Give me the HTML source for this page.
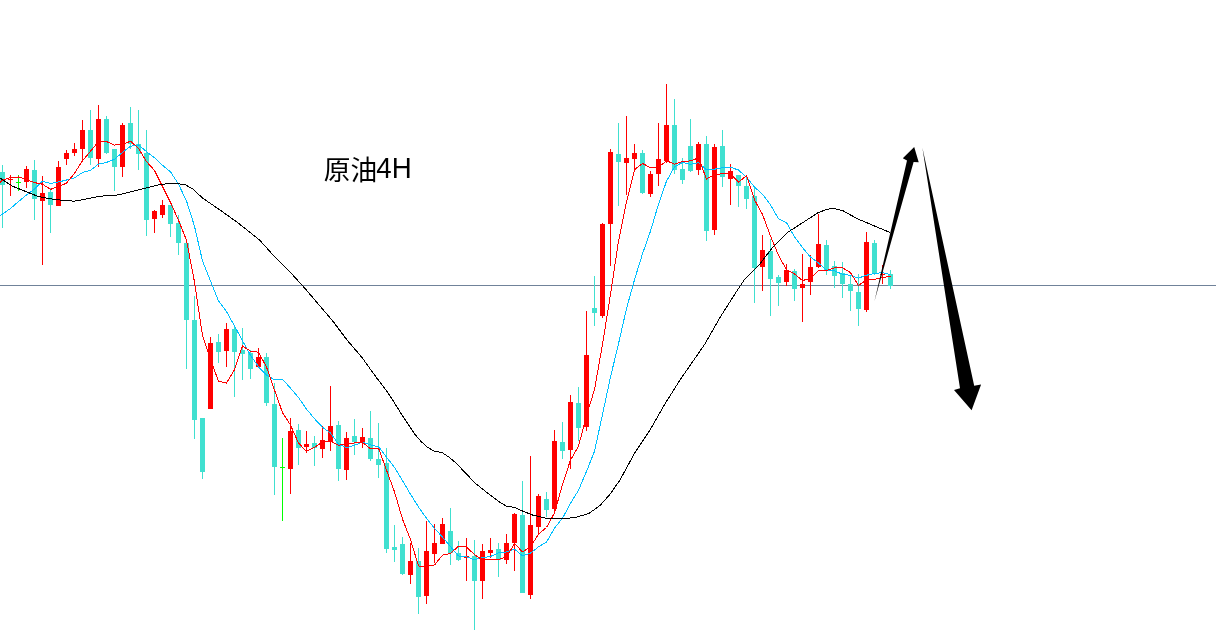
<!DOCTYPE html>
<html><head><meta charset="utf-8"><title>原油4H</title>
<style>html,body{margin:0;padding:0;background:#fff}svg{display:block}text{font-family:"Liberation Sans","Noto Sans CJK SC",sans-serif}</style></head><body>
<svg width="1216" height="644" viewBox="0 0 1216 644">
<rect width="1216" height="644" fill="#fff"/>
<g shape-rendering="crispEdges">
<rect x="0" y="285" width="1216" height="1" fill="#708299"/>
<rect x="2" y="165.00" width="1" height="62.50" fill="#40e0d0"/>
<rect x="0" y="172.00" width="5" height="12.50" fill="#40e0d0"/>
<rect x="10" y="174.50" width="1" height="21.00" fill="#ff0000"/>
<rect x="8" y="178.50" width="5" height="1.00" fill="#ff0000"/>
<rect x="18" y="175.00" width="1" height="15.50" fill="#00ff00"/>
<rect x="16" y="182.00" width="5" height="1.00" fill="#00ff00"/>
<rect x="26" y="165.50" width="1" height="22.00" fill="#ff0000"/>
<rect x="24" y="169.00" width="5" height="12.50" fill="#ff0000"/>
<rect x="34" y="159.50" width="1" height="60.50" fill="#40e0d0"/>
<rect x="32" y="170.00" width="5" height="28.75" fill="#40e0d0"/>
<rect x="42" y="176.00" width="1" height="89.00" fill="#ff0000"/>
<rect x="40" y="193.00" width="5" height="7.50" fill="#ff0000"/>
<rect x="50" y="188.00" width="1" height="44.50" fill="#40e0d0"/>
<rect x="48" y="192.00" width="5" height="12.50" fill="#40e0d0"/>
<rect x="58" y="161.00" width="1" height="44.50" fill="#ff0000"/>
<rect x="56" y="167.00" width="5" height="38.50" fill="#ff0000"/>
<rect x="66" y="150.00" width="1" height="14.50" fill="#ff0000"/>
<rect x="64" y="153.00" width="5" height="6.00" fill="#ff0000"/>
<rect x="74" y="143.00" width="1" height="12.50" fill="#ff0000"/>
<rect x="72" y="149.00" width="5" height="4.00" fill="#ff0000"/>
<rect x="82" y="120.00" width="1" height="41.00" fill="#ff0000"/>
<rect x="80" y="130.00" width="5" height="19.00" fill="#ff0000"/>
<rect x="90" y="109.50" width="1" height="55.00" fill="#40e0d0"/>
<rect x="88" y="130.00" width="5" height="27.50" fill="#40e0d0"/>
<rect x="98" y="105.00" width="1" height="62.00" fill="#ff0000"/>
<rect x="96" y="119.00" width="5" height="40.00" fill="#ff0000"/>
<rect x="106" y="115.50" width="1" height="38.00" fill="#40e0d0"/>
<rect x="104" y="119.00" width="5" height="33.50" fill="#40e0d0"/>
<rect x="114" y="149.00" width="1" height="41.50" fill="#40e0d0"/>
<rect x="112" y="149.00" width="5" height="17.50" fill="#40e0d0"/>
<rect x="122" y="122.50" width="1" height="54.00" fill="#ff0000"/>
<rect x="120" y="125.00" width="5" height="41.50" fill="#ff0000"/>
<rect x="130" y="107.00" width="1" height="42.00" fill="#40e0d0"/>
<rect x="128" y="123.00" width="5" height="20.50" fill="#40e0d0"/>
<rect x="138" y="110.00" width="1" height="60.00" fill="#40e0d0"/>
<rect x="136" y="143.50" width="5" height="10.00" fill="#40e0d0"/>
<rect x="146" y="130.00" width="1" height="105.50" fill="#40e0d0"/>
<rect x="144" y="153.00" width="5" height="66.50" fill="#40e0d0"/>
<rect x="154" y="210.00" width="1" height="22.50" fill="#ff0000"/>
<rect x="152" y="210.50" width="5" height="8.00" fill="#ff0000"/>
<rect x="162" y="200.00" width="1" height="17.50" fill="#ff0000"/>
<rect x="160" y="205.00" width="5" height="9.50" fill="#ff0000"/>
<rect x="170" y="205.00" width="1" height="32.00" fill="#40e0d0"/>
<rect x="168" y="205.00" width="5" height="18.50" fill="#40e0d0"/>
<rect x="178" y="215.00" width="1" height="40.00" fill="#40e0d0"/>
<rect x="176" y="223.00" width="5" height="19.50" fill="#40e0d0"/>
<rect x="186" y="243.00" width="1" height="125.75" fill="#40e0d0"/>
<rect x="184" y="243.00" width="5" height="77.00" fill="#40e0d0"/>
<rect x="194" y="296.00" width="1" height="142.75" fill="#40e0d0"/>
<rect x="192" y="320.00" width="5" height="99.50" fill="#40e0d0"/>
<rect x="202" y="418.00" width="1" height="60.75" fill="#40e0d0"/>
<rect x="200" y="418.00" width="5" height="54.00" fill="#40e0d0"/>
<rect x="210" y="337.00" width="1" height="71.50" fill="#ff0000"/>
<rect x="208" y="343.00" width="5" height="65.50" fill="#ff0000"/>
<rect x="218" y="333.75" width="1" height="28.75" fill="#40e0d0"/>
<rect x="216" y="342.00" width="5" height="10.00" fill="#40e0d0"/>
<rect x="226" y="323.00" width="1" height="44.00" fill="#ff0000"/>
<rect x="224" y="329.00" width="5" height="22.00" fill="#ff0000"/>
<rect x="234" y="326.00" width="1" height="71.00" fill="#40e0d0"/>
<rect x="232" y="329.00" width="5" height="23.00" fill="#40e0d0"/>
<rect x="242" y="328.00" width="1" height="52.00" fill="#40e0d0"/>
<rect x="240" y="350.00" width="5" height="4.00" fill="#40e0d0"/>
<rect x="250" y="350.00" width="1" height="28.75" fill="#40e0d0"/>
<rect x="248" y="353.00" width="5" height="16.00" fill="#40e0d0"/>
<rect x="258" y="348.00" width="1" height="19.00" fill="#ff0000"/>
<rect x="256" y="357.00" width="5" height="10.00" fill="#ff0000"/>
<rect x="266" y="353.00" width="1" height="52.50" fill="#40e0d0"/>
<rect x="264" y="357.00" width="5" height="46.00" fill="#40e0d0"/>
<rect x="274" y="383.00" width="1" height="112.00" fill="#40e0d0"/>
<rect x="272" y="404.00" width="5" height="63.00" fill="#40e0d0"/>
<rect x="282" y="438.00" width="1" height="82.50" fill="#00ff00"/>
<rect x="280" y="467.00" width="5" height="1.00" fill="#00ff00"/>
<rect x="290" y="418.00" width="1" height="75.75" fill="#ff0000"/>
<rect x="288" y="431.00" width="5" height="37.75" fill="#ff0000"/>
<rect x="298" y="424.00" width="1" height="40.50" fill="#40e0d0"/>
<rect x="296" y="430.00" width="5" height="17.50" fill="#40e0d0"/>
<rect x="306" y="431.00" width="1" height="22.00" fill="#ff0000"/>
<rect x="304" y="444.00" width="5" height="3.00" fill="#ff0000"/>
<rect x="314" y="436.00" width="1" height="29.50" fill="#40e0d0"/>
<rect x="312" y="443.00" width="5" height="4.50" fill="#40e0d0"/>
<rect x="322" y="426.00" width="1" height="31.50" fill="#ff0000"/>
<rect x="320" y="440.00" width="5" height="8.75" fill="#ff0000"/>
<rect x="330" y="386.00" width="1" height="64.50" fill="#ff0000"/>
<rect x="328" y="426.00" width="5" height="15.50" fill="#ff0000"/>
<rect x="338" y="420.50" width="1" height="60.00" fill="#40e0d0"/>
<rect x="336" y="425.00" width="5" height="43.75" fill="#40e0d0"/>
<rect x="346" y="432.00" width="1" height="47.50" fill="#ff0000"/>
<rect x="344" y="438.00" width="5" height="31.50" fill="#ff0000"/>
<rect x="354" y="418.75" width="1" height="35.75" fill="#40e0d0"/>
<rect x="352" y="436.00" width="5" height="6.00" fill="#40e0d0"/>
<rect x="362" y="427.50" width="1" height="20.00" fill="#ff0000"/>
<rect x="360" y="437.00" width="5" height="5.50" fill="#ff0000"/>
<rect x="370" y="411.00" width="1" height="49.50" fill="#40e0d0"/>
<rect x="368" y="438.00" width="5" height="20.50" fill="#40e0d0"/>
<rect x="378" y="423.00" width="1" height="54.50" fill="#40e0d0"/>
<rect x="376" y="459.00" width="5" height="6.00" fill="#40e0d0"/>
<rect x="386" y="448.00" width="1" height="105.00" fill="#40e0d0"/>
<rect x="384" y="463.00" width="5" height="85.50" fill="#40e0d0"/>
<rect x="394" y="524.50" width="1" height="37.25" fill="#40e0d0"/>
<rect x="392" y="547.00" width="5" height="3.00" fill="#40e0d0"/>
<rect x="402" y="536.75" width="1" height="38.25" fill="#40e0d0"/>
<rect x="400" y="544.00" width="5" height="29.50" fill="#40e0d0"/>
<rect x="410" y="543.00" width="1" height="40.50" fill="#ff0000"/>
<rect x="408" y="561.00" width="5" height="13.50" fill="#ff0000"/>
<rect x="418" y="547.50" width="1" height="66.50" fill="#40e0d0"/>
<rect x="416" y="561.00" width="5" height="35.75" fill="#40e0d0"/>
<rect x="426" y="520.50" width="1" height="83.00" fill="#ff0000"/>
<rect x="424" y="551.00" width="5" height="44.50" fill="#ff0000"/>
<rect x="434" y="524.00" width="1" height="39.00" fill="#ff0000"/>
<rect x="432" y="543.00" width="5" height="10.50" fill="#ff0000"/>
<rect x="442" y="518.00" width="1" height="26.00" fill="#ff0000"/>
<rect x="440" y="524.00" width="5" height="20.00" fill="#ff0000"/>
<rect x="450" y="508.00" width="1" height="56.50" fill="#40e0d0"/>
<rect x="448" y="531.00" width="5" height="22.00" fill="#40e0d0"/>
<rect x="458" y="541.00" width="1" height="19.50" fill="#40e0d0"/>
<rect x="456" y="553.00" width="5" height="6.50" fill="#40e0d0"/>
<rect x="466" y="538.00" width="1" height="42.50" fill="#ff0000"/>
<rect x="464" y="556.00" width="5" height="2.00" fill="#ff0000"/>
<rect x="474" y="540.00" width="1" height="89.50" fill="#40e0d0"/>
<rect x="472" y="556.00" width="5" height="24.50" fill="#40e0d0"/>
<rect x="482" y="544.00" width="1" height="54.50" fill="#ff0000"/>
<rect x="480" y="551.00" width="5" height="29.50" fill="#ff0000"/>
<rect x="490" y="538.00" width="1" height="20.00" fill="#ff0000"/>
<rect x="488" y="550.00" width="5" height="3.00" fill="#ff0000"/>
<rect x="498" y="543.00" width="1" height="33.75" fill="#40e0d0"/>
<rect x="496" y="549.00" width="5" height="11.00" fill="#40e0d0"/>
<rect x="506" y="534.00" width="1" height="29.50" fill="#ff0000"/>
<rect x="504" y="543.00" width="5" height="16.50" fill="#ff0000"/>
<rect x="514" y="513.00" width="1" height="57.50" fill="#ff0000"/>
<rect x="512" y="514.00" width="5" height="29.00" fill="#ff0000"/>
<rect x="522" y="480.50" width="1" height="112.00" fill="#40e0d0"/>
<rect x="520" y="515.00" width="5" height="77.50" fill="#40e0d0"/>
<rect x="530" y="456.00" width="1" height="142.50" fill="#ff0000"/>
<rect x="528" y="525.00" width="5" height="69.50" fill="#ff0000"/>
<rect x="538" y="493.50" width="1" height="39.50" fill="#ff0000"/>
<rect x="536" y="496.00" width="5" height="30.75" fill="#ff0000"/>
<rect x="546" y="492.00" width="1" height="24.75" fill="#40e0d0"/>
<rect x="544" y="499.00" width="5" height="11.00" fill="#40e0d0"/>
<rect x="554" y="430.00" width="1" height="80.50" fill="#ff0000"/>
<rect x="552" y="441.00" width="5" height="68.00" fill="#ff0000"/>
<rect x="562" y="422.00" width="1" height="36.75" fill="#40e0d0"/>
<rect x="560" y="442.00" width="5" height="9.00" fill="#40e0d0"/>
<rect x="570" y="395.00" width="1" height="73.75" fill="#ff0000"/>
<rect x="568" y="402.00" width="5" height="48.00" fill="#ff0000"/>
<rect x="578" y="387.00" width="1" height="54.00" fill="#40e0d0"/>
<rect x="576" y="403.00" width="5" height="24.50" fill="#40e0d0"/>
<rect x="586" y="311.00" width="1" height="119.50" fill="#ff0000"/>
<rect x="584" y="355.00" width="5" height="71.50" fill="#ff0000"/>
<rect x="594" y="276.00" width="1" height="50.00" fill="#40e0d0"/>
<rect x="592" y="308.00" width="5" height="5.00" fill="#40e0d0"/>
<rect x="602" y="223.00" width="1" height="94.50" fill="#ff0000"/>
<rect x="600" y="224.00" width="5" height="92.00" fill="#ff0000"/>
<rect x="610" y="148.75" width="1" height="116.75" fill="#ff0000"/>
<rect x="608" y="152.00" width="5" height="72.00" fill="#ff0000"/>
<rect x="618" y="123.00" width="1" height="82.50" fill="#40e0d0"/>
<rect x="616" y="154.00" width="5" height="7.50" fill="#40e0d0"/>
<rect x="626" y="116.00" width="1" height="79.00" fill="#ff0000"/>
<rect x="624" y="158.00" width="5" height="4.50" fill="#ff0000"/>
<rect x="634" y="143.75" width="1" height="25.00" fill="#ff0000"/>
<rect x="632" y="153.00" width="5" height="5.50" fill="#ff0000"/>
<rect x="642" y="149.50" width="1" height="44.25" fill="#40e0d0"/>
<rect x="640" y="153.00" width="5" height="39.50" fill="#40e0d0"/>
<rect x="650" y="171.00" width="1" height="26.00" fill="#ff0000"/>
<rect x="648" y="174.00" width="5" height="19.75" fill="#ff0000"/>
<rect x="658" y="123.00" width="1" height="62.50" fill="#ff0000"/>
<rect x="656" y="159.00" width="5" height="14.75" fill="#ff0000"/>
<rect x="666" y="84.00" width="1" height="78.50" fill="#ff0000"/>
<rect x="664" y="125.00" width="5" height="36.00" fill="#ff0000"/>
<rect x="674" y="99.00" width="1" height="74.75" fill="#40e0d0"/>
<rect x="672" y="125.00" width="5" height="45.00" fill="#40e0d0"/>
<rect x="682" y="158.00" width="1" height="25.75" fill="#40e0d0"/>
<rect x="680" y="169.00" width="5" height="10.50" fill="#40e0d0"/>
<rect x="690" y="119.00" width="1" height="53.00" fill="#40e0d0"/>
<rect x="688" y="146.00" width="5" height="25.00" fill="#40e0d0"/>
<rect x="698" y="142.00" width="1" height="33.00" fill="#ff0000"/>
<rect x="696" y="144.00" width="5" height="26.00" fill="#ff0000"/>
<rect x="706" y="136.00" width="1" height="105.00" fill="#40e0d0"/>
<rect x="704" y="144.00" width="5" height="86.50" fill="#40e0d0"/>
<rect x="714" y="144.00" width="1" height="90.50" fill="#ff0000"/>
<rect x="712" y="147.00" width="5" height="82.50" fill="#ff0000"/>
<rect x="722" y="130.00" width="1" height="57.00" fill="#40e0d0"/>
<rect x="720" y="146.00" width="5" height="30.50" fill="#40e0d0"/>
<rect x="730" y="163.75" width="1" height="41.25" fill="#ff0000"/>
<rect x="728" y="171.00" width="5" height="7.50" fill="#ff0000"/>
<rect x="738" y="175.00" width="1" height="32.00" fill="#40e0d0"/>
<rect x="736" y="175.00" width="5" height="10.50" fill="#40e0d0"/>
<rect x="746" y="175.00" width="1" height="33.75" fill="#40e0d0"/>
<rect x="744" y="186.00" width="5" height="12.50" fill="#40e0d0"/>
<rect x="754" y="187.50" width="1" height="115.00" fill="#40e0d0"/>
<rect x="752" y="196.00" width="5" height="71.50" fill="#40e0d0"/>
<rect x="762" y="234.50" width="1" height="56.00" fill="#ff0000"/>
<rect x="760" y="250.00" width="5" height="16.50" fill="#ff0000"/>
<rect x="770" y="238.75" width="1" height="77.25" fill="#40e0d0"/>
<rect x="768" y="251.00" width="5" height="27.50" fill="#40e0d0"/>
<rect x="778" y="274.50" width="1" height="31.50" fill="#40e0d0"/>
<rect x="776" y="277.00" width="5" height="5.50" fill="#40e0d0"/>
<rect x="786" y="263.75" width="1" height="22.25" fill="#ff0000"/>
<rect x="784" y="270.00" width="5" height="11.50" fill="#ff0000"/>
<rect x="794" y="268.75" width="1" height="32.25" fill="#40e0d0"/>
<rect x="792" y="271.00" width="5" height="17.50" fill="#40e0d0"/>
<rect x="802" y="253.75" width="1" height="67.75" fill="#ff0000"/>
<rect x="800" y="283.50" width="5" height="4.00" fill="#ff0000"/>
<rect x="810" y="255.00" width="1" height="39.50" fill="#ff0000"/>
<rect x="808" y="267.00" width="5" height="14.50" fill="#ff0000"/>
<rect x="818" y="213.75" width="1" height="53.75" fill="#ff0000"/>
<rect x="816" y="244.00" width="5" height="22.50" fill="#ff0000"/>
<rect x="826" y="240.00" width="1" height="34.50" fill="#40e0d0"/>
<rect x="824" y="245.00" width="5" height="24.50" fill="#40e0d0"/>
<rect x="834" y="261.00" width="1" height="26.50" fill="#40e0d0"/>
<rect x="832" y="266.00" width="5" height="9.50" fill="#40e0d0"/>
<rect x="842" y="262.00" width="1" height="35.50" fill="#40e0d0"/>
<rect x="840" y="272.50" width="5" height="11.00" fill="#40e0d0"/>
<rect x="850" y="275.00" width="1" height="35.50" fill="#40e0d0"/>
<rect x="848" y="283.50" width="5" height="7.00" fill="#40e0d0"/>
<rect x="858" y="273.75" width="1" height="52.25" fill="#40e0d0"/>
<rect x="856" y="291.50" width="5" height="17.00" fill="#40e0d0"/>
<rect x="866" y="232.00" width="1" height="80.00" fill="#ff0000"/>
<rect x="864" y="242.00" width="5" height="68.00" fill="#ff0000"/>
<rect x="874" y="240.00" width="1" height="35.00" fill="#40e0d0"/>
<rect x="872" y="243.00" width="5" height="29.50" fill="#40e0d0"/>
<rect x="882" y="265.00" width="1" height="18.75" fill="#ff0000"/>
<rect x="880" y="273.50" width="5" height="1.00" fill="#ff0000"/>
<rect x="890" y="270.00" width="1" height="18.75" fill="#40e0d0"/>
<rect x="888" y="274.00" width="5" height="11.50" fill="#40e0d0"/>
</g>
<polyline points="0.0,216.0 2.5,214.0 10.5,208.5 18.5,201.5 26.5,195.0 34.5,189.0 42.5,181.2 50.5,183.5 58.5,182.0 66.5,180.0 74.5,177.9 82.5,172.5 90.5,170.4 98.5,164.1 106.5,162.4 114.5,159.2 122.5,152.4 130.5,146.3 138.5,144.9 146.5,151.6 154.5,157.8 162.5,165.2 170.5,171.8 178.5,184.2 186.5,200.9 194.5,226.2 202.5,260.9 210.5,280.9 218.5,300.8 226.5,311.7 234.5,325.9 242.5,340.8 250.5,355.3 258.5,366.8 266.5,375.1 274.5,379.8 282.5,379.3 290.5,388.1 298.5,397.6 306.5,409.1 314.5,418.7 322.5,427.3 330.5,433.0 338.5,444.2 346.5,447.7 354.5,445.2 362.5,442.2 370.5,444.9 378.5,446.7 386.5,457.1 394.5,467.4 402.5,480.7 410.5,494.2 418.5,507.0 426.5,518.3 434.5,528.4 442.5,537.1 450.5,546.6 458.5,556.0 466.5,556.8 474.5,559.8 482.5,557.6 490.5,556.5 498.5,552.8 506.5,552.0 514.5,549.1 522.5,556.0 530.5,553.1 538.5,546.8 546.5,542.2 554.5,528.2 562.5,518.2 570.5,503.4 578.5,490.2 586.5,471.4 594.5,451.3 602.5,414.4 610.5,377.1 618.5,343.7 626.5,308.5 634.5,279.7 642.5,253.8 650.5,231.1 658.5,204.2 666.5,181.2 674.5,166.9 682.5,162.4 690.5,164.3 698.5,162.6 706.5,169.8 714.5,169.2 722.5,167.7 730.5,167.3 738.5,170.0 746.5,177.3 754.5,187.1 762.5,194.2 770.5,204.9 778.5,218.8 786.5,222.7 794.5,236.8 802.5,247.6 810.5,257.1 818.5,263.0 826.5,270.1 834.5,270.9 842.5,274.2 850.5,275.4 858.5,278.1 866.5,275.2 874.5,273.6 882.5,272.6 890.5,274.5" fill="none" stroke="#00bfff" stroke-width="1" stroke-linejoin="round" shape-rendering="crispEdges"/>
<polyline points="0.0,182.5 2.5,180.0 10.5,177.5 18.5,177.0 26.5,179.5 34.5,182.6 42.5,184.2 50.5,189.4 58.5,186.4 66.5,183.2 74.5,173.3 82.5,160.7 90.5,151.3 98.5,141.7 106.5,141.6 114.5,145.1 122.5,144.1 130.5,141.3 138.5,148.2 146.5,161.6 154.5,170.4 162.5,186.4 170.5,202.4 178.5,220.2 186.5,240.3 194.5,282.1 202.5,335.5 210.5,359.4 218.5,381.3 226.5,383.1 234.5,369.6 242.5,346.0 250.5,351.2 258.5,352.2 266.5,367.0 274.5,390.0 282.5,412.6 290.5,425.0 298.5,443.1 306.5,451.3 314.5,447.4 322.5,442.0 330.5,441.0 338.5,445.2 346.5,444.1 354.5,442.9 362.5,442.4 370.5,448.9 378.5,448.1 386.5,470.2 394.5,491.8 402.5,519.1 410.5,539.6 418.5,566.0 426.5,566.5 434.5,565.0 442.5,555.1 450.5,553.5 458.5,546.1 466.5,547.1 474.5,554.6 482.5,560.0 490.5,559.4 498.5,559.5 506.5,556.9 514.5,543.6 522.5,551.9 530.5,546.9 538.5,534.1 546.5,527.5 554.5,512.9 562.5,484.6 570.5,460.0 578.5,446.3 586.5,415.3 594.5,389.7 602.5,344.3 610.5,294.3 618.5,241.1 626.5,201.7 634.5,169.7 642.5,163.4 650.5,167.8 658.5,167.3 666.5,160.7 674.5,164.1 682.5,161.5 690.5,160.9 698.5,157.9 706.5,179.0 714.5,174.4 722.5,173.8 730.5,173.8 738.5,182.1 746.5,175.7 754.5,199.8 762.5,214.5 770.5,236.0 778.5,255.4 786.5,269.7 794.5,273.9 802.5,280.6 810.5,278.3 818.5,270.6 826.5,270.5 834.5,267.9 842.5,267.9 850.5,272.6 858.5,285.5 866.5,280.0 874.5,279.4 882.5,277.4 890.5,276.4" fill="none" stroke="#ff0000" stroke-width="1" stroke-linejoin="round" shape-rendering="crispEdges"/>
<polyline points="0.0,178.0 12.5,186.2 25.0,191.2 37.5,196.2 50.0,198.8 60.0,200.0 73.8,201.2 87.5,198.8 100.0,196.2 117.5,195.0 130.0,192.0 145.0,188.2 160.0,184.5 172.5,183.2 185.0,184.5 192.5,188.8 202.5,198.0 220.0,210.0 237.5,222.5 247.0,230.0 259.5,240.0 272.0,253.8 287.0,268.8 302.0,285.0 317.0,302.5 332.0,320.0 347.0,340.0 362.0,357.5 374.5,375.0 385.8,390.0 389.5,395.0 402.0,415.0 414.5,433.8 420.8,441.2 427.0,447.0 434.5,451.2 442.0,452.5 449.5,457.5 456.0,463.0 475.0,483.0 487.5,493.0 500.0,502.5 506.2,506.0 515.0,507.5 522.5,511.0 532.5,515.0 545.0,518.0 560.0,519.0 575.0,517.5 588.8,513.5 600.0,505.5 610.0,494.2 620.0,480.0 635.0,452.5 650.0,430.0 665.0,403.8 680.0,380.0 693.8,360.0 705.0,343.8 720.0,317.5 735.0,293.8 745.0,278.8 760.0,263.8 772.5,247.5 787.5,232.5 805.0,221.2 817.5,213.0 825.0,210.0 832.5,208.2 842.5,210.5 857.5,218.8 875.0,226.2 890.0,232.5" fill="none" stroke="#000" stroke-width="1" stroke-linejoin="round" shape-rendering="crispEdges"/>
<polygon points="874.5,301 907,160.6 902.8,158.2 914.2,146.9 918.7,162.2 913.6,162" fill="#000"/>
<polygon points="922.4,147.7 974.2,385.7 981.1,384.6 971.6,410.3 954,390 960,388.3" fill="#000"/>
<text x="323.8" y="179.6" font-size="26.75" fill="#000">原油</text>
<text transform="translate(376.3,177.9) scale(1,1.07)" font-size="27.7" fill="#000">4H</text>
</svg></body></html>
